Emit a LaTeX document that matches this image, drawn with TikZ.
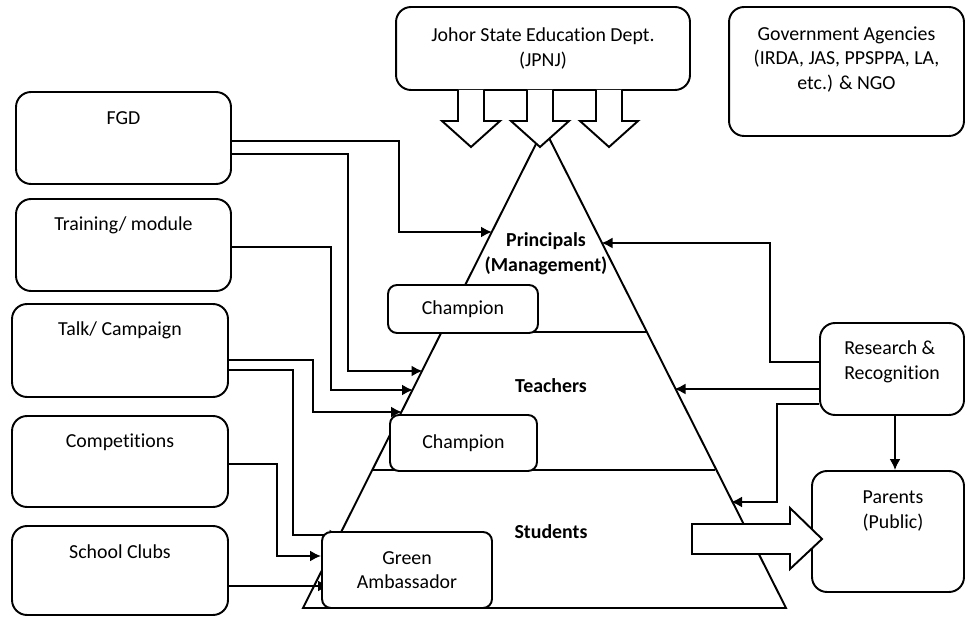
\documentclass[tikz,border=0pt]{standalone}
\usepackage{fontspec}
\setmainfont{Carlito}[Ligatures=NoCommon]
\usetikzlibrary{arrows.meta,calc,backgrounds}
\begin{document}
\begin{tikzpicture}[x=0.02cm,y=-0.02cm,line width=1.1pt,
    font=\fontsize{11.3}{14}\selectfont,
    box/.style={draw,rounded corners=0.3cm,fill=white,align=center},
    small/.style={draw,rounded corners=0.18cm,fill=white,align=center},
    intext/.style={anchor=center,align=center},
    level/.style={font=\fontsize{11.3}{14}\selectfont\bfseries,align=center},
    link/.style={line width=1.1pt,-{Latex[length=2.2mm,width=2.2mm]}}]
    \useasboundingbox (0,0) rectangle (966,617);

    \coordinate (top) at (544,128);
    \coordinate (bl) at (303,608);
    \coordinate (br) at (786,608);
    \draw (top) -- (bl) -- (br) -- cycle;
    \draw (442,332) -- (646,332);
    \draw (373,470) -- (715,470);

    \node[level] (prin) at (546,253.5) {Principals\\(Management)};
    \node[level] (teach) at (551,386) {Teachers};
    \node[level] (stud) at (551,532) {Students};

    \node[box,minimum width=5.88cm,minimum height=1.66cm] (jpnj) at (543,48.5) {Johor State Education Dept.\\(JPNJ)};
    \node[box,minimum width=4.7cm,minimum height=2.58cm,label={[intext,yshift=-1.07cm]north:Government Agencies\\(IRDA, JAS, PPSPPA, LA,\\etc.) \& NGO}] (gov) at (846.5,71.5) {};

    \node[box,minimum width=4.3cm,minimum height=1.84cm,label={[intext,yshift=-0.54cm]north:FGD}] (fgd) at (123.5,138) {};
    \node[box,minimum width=4.3cm,minimum height=1.84cm,label={[intext,yshift=-0.55cm]north:Training/ module}] (train) at (123.5,245) {};
    \node[box,minimum width=4.32cm,minimum height=1.86cm,label={[intext,yshift=-0.55cm]north:Talk/ Campaign}] (talk) at (120,350.5) {};
    \node[box,minimum width=4.32cm,minimum height=1.82cm,label={[intext,yshift=-0.54cm]north:Competitions}] (comp) at (120,461.5) {};
    \node[box,minimum width=4.32cm,minimum height=1.78cm,label={[intext,yshift=-0.54cm]north:School Clubs}] (club) at (120,570.5) {};

    \node[small,minimum width=3cm,minimum height=0.96cm] (champA) at (463,309) {Champion};
    \node[small,minimum width=2.94cm,minimum height=1.12cm] (champB) at (463.5,443) {Champion};
    \node[small,minimum width=3.4cm,minimum height=1.52cm] (green) at (407,570) {Green\\Ambassador};

    \node[box,minimum width=2.88cm,minimum height=1.84cm,label={[intext,align=left,yshift=-0.79cm]north:Research \&\\Recognition}] (research) at (892,369) {};
    \node[box,minimum width=3.04cm,minimum height=2.42cm,label={[intext,xshift=0.1cm,yshift=-0.82cm]north:Parents\\(Public)}] (parents) at (888,531.5) {};

    \foreach \cx in {471,540,609}
        \draw[fill=white] (\cx-13,90) -- (\cx-13,121) -- (\cx-29,121) -- (\cx,147) -- (\cx+29,121) -- (\cx+13,121) -- (\cx+13,90);
    \draw[fill=white] (692,524) -- (790,524) -- (790,508) -- (822,539) -- (790,569) -- (790,554) -- (692,554) -- cycle;

    \coordinate (p1) at (492,232);
    \coordinate (t2) at (422.5,371);
    \coordinate (t3) at (413,390);
    \coordinate (t4) at (402,412);
    \coordinate (t5) at (340.5,535);
    \coordinate (r1) at (601.5,243);
    \coordinate (r2) at (674.5,389);
    \coordinate (r3) at (731,502);

    \begin{scope}[on background layer]
        \draw[link] ($(fgd.east)+(0,3)$) -| (399,232) -- (p1);
        \draw[link] ($(fgd.east)+(0,16)$) -| (348,371) -- (t2);
        \draw[link] ($(train.east)+(0,2)$) -| (331,390) -- (t3);
        \draw[link] ($(talk.east)+(0,9.5)$) -| (313,412) -- (t4);
        \draw[link] ($(talk.east)+(0,19.5)$) -| (293,535) -- (t5);
        \draw[link] ($(comp.east)+(0,2.5)$) -| (277,556) -- ($(green.west)+(0,-14)$);
        \draw[link] ($(club.east)+(0,15.5)$) -- ($(green.west)+(8,16)$);
        \draw[link] ($(research.west)+(0,-7)$) -| (770,243) -- (r1);
        \draw[link] ($(research.west)+(0,20)$) -- (r2);
        \draw[link] ($(research.west)+(0,35)$) -| (777,502) -- (r3);
        \draw[link] ($(research.south)+(3,0)$) -- ($(research.south |- parents.north)+(3,0)$);
    \end{scope}
\end{tikzpicture}
\end{document}
